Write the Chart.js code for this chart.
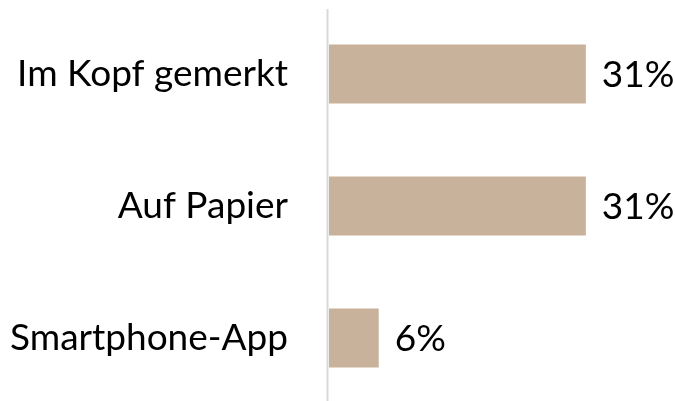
<!DOCTYPE html>
<html>
<head>
<meta charset="utf-8">
<script src="https://cdn.jsdelivr.net/npm/chart.js@4/dist/chart.umd.min.js"></script>
<style>
  html, body { margin: 0; padding: 0; background: #ffffff; overflow: hidden; }
  #wrap { width: 675px; height: 405px; position: relative; }
</style>
</head>
<body>
<div id="wrap"><canvas id="c"></canvas></div>
<script>
const categories = ["Im Kopf gemerkt", "Auf Papier", "Smartphone-App"];
const values = [31, 31, 6];
const valueLabels = ["31%", "31%", "6%"];

const FONT = "Lato, 'Liberation Sans', sans-serif";
const FONT_SIZE = 37;

const axisLinePlugin = {
  id: 'axisLine',
  beforeDatasetsDraw(chart) {
    const ctx = chart.ctx;
    const x = chart.scales.x.getPixelForValue(0) - 1.5;
    ctx.save();
    ctx.strokeStyle = '#D9D9D9';
    ctx.lineWidth = 2;
    ctx.beginPath();
    ctx.moveTo(x, chart.chartArea.top + 1);
    ctx.lineTo(x, chart.chartArea.bottom);
    ctx.stroke();
    ctx.restore();
  }
};

const valueLabelPlugin = {
  id: 'valueLabels',
  afterDatasetsDraw(chart) {
    const ctx = chart.ctx;
    const meta = chart.getDatasetMeta(0);
    ctx.save();
    ctx.font = FONT_SIZE + 'px ' + FONT;
    ctx.fillStyle = '#000000';
    ctx.textAlign = 'left';
    ctx.textBaseline = 'middle';
    meta.data.forEach((bar, i) => {
      ctx.fillText(valueLabels[i], bar.x + 16, bar.y + 1);
    });
    ctx.restore();
  }
};

new Chart(document.getElementById('c'), {
  type: 'bar',
  data: {
    labels: categories,
    datasets: [{
      data: values,
      backgroundColor: '#C9B29B',
      borderWidth: 0,
      categoryPercentage: 1.0,
      barPercentage: 0.447
    }]
  },
  options: {
    indexAxis: 'y',
    responsive: true,
    maintainAspectRatio: false,
    animation: false,
    layout: { padding: { top: 8, bottom: 1, left: 0, right: 56 } },
    plugins: { legend: { display: false }, tooltip: { enabled: false } },
    scales: {
      x: {
        display: false,
        min: 0,
        max: 35
      },
      y: {
        grid: { display: false, drawTicks: false },
        border: { display: false },
        afterFit(scale) {
          scale.width = 329;
          scale.paddingTop = 0;
          scale.paddingBottom = 0;
        },
        ticks: {
          color: '#000000',
          font: { family: FONT, size: FONT_SIZE },
          padding: 41
        }
      }
    }
  },
  plugins: [axisLinePlugin, valueLabelPlugin]
});
</script>
</body>
</html>
